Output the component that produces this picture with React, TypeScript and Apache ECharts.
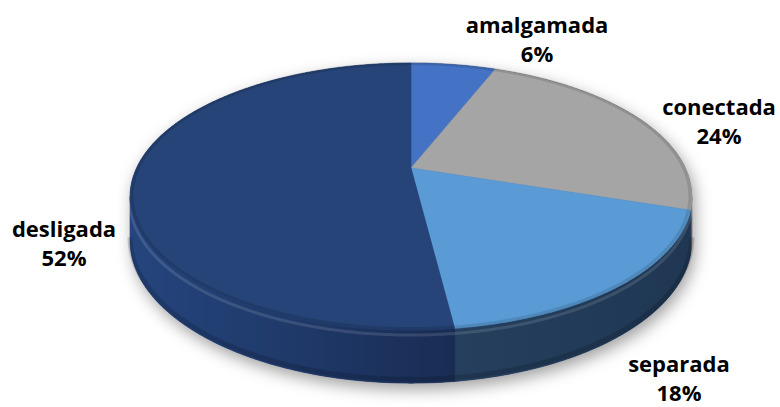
import React, { useEffect, useRef } from "react";
import * as echarts from "echarts";

// ---- data ----
const categories = ["amalgamada", "conectada", "separada", "desligada"];
const values = [6, 24, 18, 52];

// ---- styles / layout ----
const topColors = ["#4472C4", "#A5A5A5", "#5B9BD5", "#264478"];
const sideStops = [
  ["#2f5597", "#1f3864"],
  ["#7d7d7d", "#5f5f5f"],
  ["#2d4a6c", "#1f3753"],
  ["#25457e", "#101b35"],
];
const labelPos = [
  [537, 38],
  [719, 120],
  [679, 377],
  [64, 242],
];

const CX = 411;
const CY = 168;
const RX = 274.5;
const RY = 127.4;
const K = 0.2135;
const H = 41.8;
const DEG = Math.PI / 180;
const FRONT_A = Math.acos(-K); // right extreme
const FRONT_B = 2 * Math.PI - Math.acos(-K); // left extreme

const total = values.reduce((a, b) => a + b, 0);
const cum: number[] = [];
values.reduce((acc, v, i) => {
  cum[i] = acc;
  return acc + v;
}, 0);
const seriesData = values.map((v, i) => [v, cum[i]]);

function proj(theta: number, f: number) {
  const u = f * Math.sin(theta);
  const v = f * Math.cos(theta);
  const s = 1 / (1 + K * v);
  return [CX + RX * u * s, CY - RY * v * s, s];
}

function arcPoints(a: number, b: number, f: number, dy: number) {
  const pts: number[][] = [];
  const steps = Math.max(2, Math.ceil((b - a) / (0.5 * DEG)));
  for (let j = 0; j <= steps; j++) {
    const t = a + ((b - a) * j) / steps;
    const p = proj(t, f);
    pts.push([p[0], p[1] + dy * p[2]]);
  }
  return pts;
}

function sliceAngles(api: any) {
  const v = api.value(0) as number;
  const c = api.value(1) as number;
  return [(c / total) * 2 * Math.PI, ((c + v) / total) * 2 * Math.PI];
}

function sideItem(params: any, api: any) {
  const i = params.dataIndex;
  const [a0, b0] = sliceAngles(api);
  const children: any[] = [];
  if (i === 0) {
    const back = arcPoints(FRONT_B - 2 * Math.PI, FRONT_A, 1, 0);
    const front = arcPoints(FRONT_A, FRONT_B, 1, H);
    children.push({
      type: "polygon",
      shape: { points: back.concat(front) },
      style: {
        fill: "#1c2f55",
        shadowBlur: 16,
        shadowOffsetX: 3,
        shadowOffsetY: 6,
        shadowColor: "rgba(0,0,0,0.38)",
      },
      z2: 0,
    });
  }
  const a = Math.max(a0, FRONT_A);
  const b = Math.min(b0, FRONT_B);
  if (b > a) {
    const top = arcPoints(a, b, 1, 0);
    const bottom = arcPoints(a, b, 1, H).reverse();
    const grad = new echarts.graphic.LinearGradient(
      CX - RX * 1.03,
      0,
      CX + RX * 1.03,
      0,
      [
        { offset: 0, color: sideStops[i][0] },
        { offset: 1, color: sideStops[i][1] },
      ],
      true
    );
    children.push({
      type: "polygon",
      shape: { points: top.concat(bottom) },
      style: { fill: grad, stroke: grad, lineWidth: 0.6 },
      z2: 1,
    });
    children.push({
      type: "polyline",
      shape: { points: arcPoints(a, b, 1, 4) },
      style: {
        stroke: "rgba(255,255,255,0.12)",
        lineWidth: 3,
        fill: null,
      },
      z2: 2,
    });
    children.push({
      type: "polyline",
      shape: { points: arcPoints(a, b, 1, H - 3) },
      style: {
        stroke: "rgba(0,0,0,0.15)",
        lineWidth: 5,
        fill: null,
      },
      z2: 2,
    });
  }
  return { type: "group", children };
}

function topItem(params: any, api: any) {
  const i = params.dataIndex;
  const [a, b] = sliceAngles(api);
  const c = proj(0, 0);
  const rim = arcPoints(a, b, 1, 0);
  const pts = [[c[0], c[1]]].concat(rim);
  const [lx, ly] = labelPos[i];
  return {
    type: "group",
    children: [
      {
        type: "polygon",
        shape: { points: pts },
        style: { fill: topColors[i], stroke: topColors[i], lineWidth: 0.6 },
      },
      {
        type: "polyline",
        shape: { points: arcPoints(a, b, 0.993, 0) },
        style: { stroke: "rgba(0,0,0,0.12)", lineWidth: 3, fill: null },
      },
      {
        type: "text",
        x: lx,
        y: ly,
        style: {
          text: categories[i] + "\n" + api.value(0) + "%",
          fill: "#000000",
          fontFamily: "Open Sans",
          fontWeight: "bold",
          fontSize: 22,
          lineHeight: 29,
          align: "center",
          verticalAlign: "middle",
        },
      },
    ],
  };
}

export default function App() {
  const ref = useRef<HTMLDivElement>(null);
  useEffect(() => {
    document.body.style.margin = "0";
    if (!ref.current) return;
    const chart = echarts.init(ref.current, null, { renderer: "svg" });
    chart.setOption({
      animation: false,
      backgroundColor: "#ffffff",
      series: [
        {
          type: "custom",
          coordinateSystem: "none",
          renderItem: sideItem,
          data: seriesData,
          z: 1,
          silent: true,
        },
        {
          type: "custom",
          coordinateSystem: "none",
          renderItem: topItem,
          data: seriesData,
          z: 2,
          silent: true,
        },
      ],
    });
    return () => chart.dispose();
  }, []);
  return <div ref={ref} style={{ width: 780, height: 407 }} />;
}
